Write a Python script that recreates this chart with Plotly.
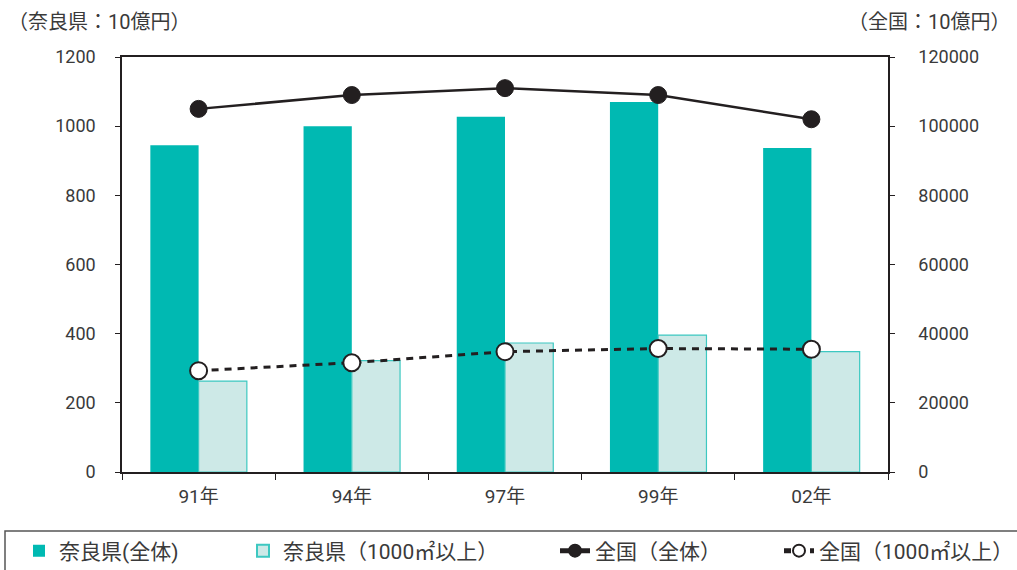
import plotly.graph_objects as go

# Data (unit: 10億円)
years = ["91年", "94年", "97年", "99年", "02年"]
nara_total = [945, 1000, 1027, 1070, 937]
nara_large = [263, 322, 373, 396, 348]
japan_total = [105000, 109000, 111000, 109000, 102000]
japan_large = [29300, 31600, 34800, 35700, 35500]

FONT = "Roboto, 'Noto Sans CJK JP', sans-serif"
TEXT = "#3a3a3a"
TEAL = "#00B9B2"
PALE = "#CDE9E7"
PALE_EDGE = "#3DC8C1"
INK = "#231F20"

W, H = 1017, 570

fig = go.Figure()

fig.add_trace(go.Bar(
    x=years, y=nara_total, name="奈良県(全体)", legend="legend",
    marker=dict(color=TEAL, line=dict(width=0)),
))
fig.add_trace(go.Bar(
    x=years, y=nara_large, name="奈良県（1000㎡以上）", legend="legend2",
    marker=dict(color=PALE, line=dict(color=PALE_EDGE, width=1.2)),
))
fig.add_trace(go.Scatter(
    x=years, y=japan_total, name="全国（全体）", yaxis="y2", legend="legend3",
    mode="lines+markers",
    line=dict(color=INK, width=2.5),
    marker=dict(size=17, color=INK, line=dict(color=INK, width=1)),
))
fig.add_trace(go.Scatter(
    x=years, y=japan_large, name="全国（1000㎡以上）", yaxis="y2", legend="legend4",
    mode="lines+markers",
    line=dict(color=INK, width=3, dash="7px,6px"),
    marker=dict(size=17, color="white", line=dict(color=INK, width=2)),
))


def legend_at(px):
    # one legend entry per box, placed along the bottom strip
    return dict(
        orientation="h",
        xref="container", yref="container",
        x=px / W, y=(H - 551) / H, xanchor="left", yanchor="middle",
        bgcolor="rgba(0,0,0,0)", borderwidth=0,
        font=dict(family=FONT, size=21, color=TEXT),
        itemsizing="constant",
    )


# plot area spans 122..888 px horizontally, 57..472 px vertically
PX0, PX1, PY0, PY1 = 122, 888, 57, 472


def paper_x(px):
    return (px - PX0) / (PX1 - PX0)


def paper_y(py):
    return (PY1 - py) / (PY1 - PY0)


fig.update_layout(
    width=W, height=H,
    margin=dict(l=PX0, r=W - PX1, t=PY0, b=H - PY1),
    paper_bgcolor="white", plot_bgcolor="white",
    font=dict(family=FONT, size=18, color=TEXT),
    barmode="group", bargap=0.37, bargroupgap=0,
    showlegend=True,
    legend=legend_at(19),
    legend2=legend_at(243),
    legend3=legend_at(555),
    legend4=legend_at(779),
    xaxis=dict(
        showline=True, linecolor=INK, linewidth=1.5, mirror=True,
        ticks="outside", ticklen=6, tickcolor=INK,
        tickson="boundaries", ticklabelstandoff=6,
        tickfont=dict(family=FONT, size=19, color=TEXT),
        showgrid=False,
    ),
    yaxis=dict(
        range=[0, 1200], dtick=200, tickformat="d",
        showline=True, linecolor=INK, linewidth=1.5,
        ticks="outside", ticklen=5, tickcolor=INK, ticklabelstandoff=16,
        tickfont=dict(family=FONT, size=18, color=TEXT),
        showgrid=False, zeroline=False,
    ),
    yaxis2=dict(
        range=[0, 120000], dtick=20000, tickformat="d",
        overlaying="y", side="right",
        showline=True, linecolor=INK, linewidth=1.5,
        ticks="outside", ticklen=5, tickcolor=INK, ticklabelstandoff=20,
        tickfont=dict(family=FONT, size=18, color=TEXT),
        showgrid=False, zeroline=False,
    ),
    shapes=[
        dict(type="rect", xref="paper", yref="paper",
             x0=paper_x(5), x1=paper_x(1030), y0=paper_y(590), y1=paper_y(531),
             line=dict(color="#555555", width=1.5), fillcolor="rgba(0,0,0,0)",
             layer="above"),
    ],
    annotations=[
        dict(text="（奈良県：10億円）", xref="paper", yref="paper",
             x=paper_x(6), y=paper_y(22), xanchor="left", yanchor="middle",
             showarrow=False, font=dict(family=FONT, size=20, color=TEXT)),
        dict(text="（全国：10億円）", xref="paper", yref="paper",
             x=paper_x(1012), y=paper_y(22), xanchor="right", yanchor="middle",
             showarrow=False, font=dict(family=FONT, size=20, color=TEXT)),
    ],
)

fig.write_html("out.html")
